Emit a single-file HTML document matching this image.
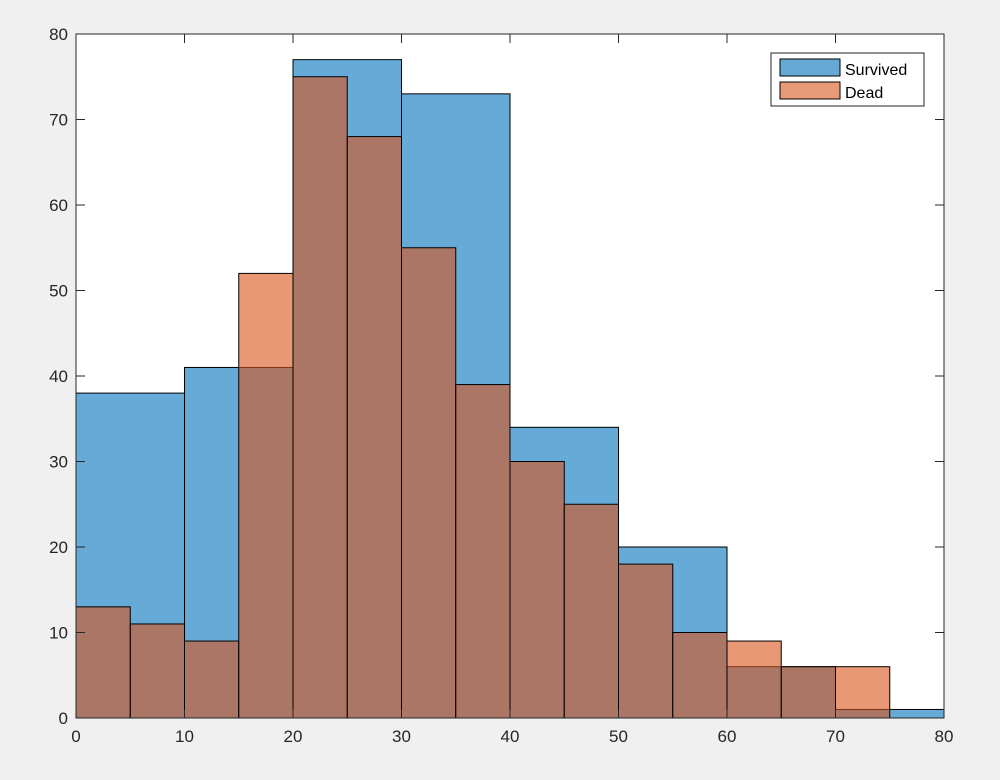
<!DOCTYPE html>
<html><head><meta charset="utf-8"><style>
body{margin:0;background:#f0f0f0;}
svg{display:block;font-family:"Liberation Sans",Arial,sans-serif;}
</style></head><body>
<svg id="chart" width="1000" height="780">
<rect x="76" y="34" width="868" height="684" fill="#fff"/>
<g id="bars"></g>
<g id="axes"></g>
<g>
<rect x="771" y="53" width="153" height="53" fill="#fff" stroke="#262626" stroke-width="1"/>
<rect x="780" y="59" width="60" height="17" fill="#66a9d7" stroke="#000"/>
<text x="845" y="75" font-size="16" fill="#000">Survived</text>
<rect x="780" y="82" width="60" height="17" fill="#e89a78" stroke="#000"/>
<text x="845" y="98" font-size="16" fill="#000">Dead</text>
</g>
</svg>
<script>
const survivedEdges=[0,10,20,30,40,50,60,70,80];
const survivedCounts=[38,41,77,73,34,20,6,1];
const deadEdges=[0,5,10,15,20,25,30,35,40,45,50,55,60,65,70,75,80];
const deadCounts=[13,11,9,52,75,68,55,39,30,25,18,10,9,6,6,0];
const xTicks=[0,10,20,30,40,50,60,70,80];
const yTicks=[0,10,20,30,40,50,60,70,80];
const X0=76,X1=944,Y0=718,Y1=34;
const xs=v=>X0+(v-0)/80*(X1-X0);
const ys=v=>Y0-(v-0)/80*(Y0-Y1);
const NS='http://www.w3.org/2000/svg';
const bars=document.getElementById('bars');
function drawSeries(edges,counts,color,name){
 counts.forEach((c,i)=>{
  if(c<=0)return;
  const r=document.createElementNS(NS,'rect');
  r.setAttribute('x',xs(edges[i]));r.setAttribute('y',ys(c));
  r.setAttribute('width',xs(edges[i+1])-xs(edges[i]));r.setAttribute('height',ys(0)-ys(c));
  r.setAttribute('fill',color);r.setAttribute('fill-opacity','0.6');
  r.setAttribute('stroke','#000');r.setAttribute('stroke-width','1');
  
  
  bars.appendChild(r);
 });
}
drawSeries(survivedEdges,survivedCounts,'#0072BD','survived');
drawSeries(deadEdges,deadCounts,'#D95319','dead');
const ax=document.getElementById('axes');
const frame=document.createElementNS(NS,'rect');
frame.setAttribute('x',X0);frame.setAttribute('y',Y1);frame.setAttribute('width',X1-X0);frame.setAttribute('height',Y0-Y1);
frame.setAttribute('fill','none');frame.setAttribute('stroke','#262626');


ax.appendChild(frame);
function line(x1,y1,x2,y2){const l=document.createElementNS(NS,'line');l.setAttribute('x1',x1);l.setAttribute('y1',y1);l.setAttribute('x2',x2);l.setAttribute('y2',y2);l.setAttribute('stroke','#262626');ax.appendChild(l);return l;}
xTicks.forEach(t=>{
 const x=xs(t);line(x,Y0,x,Y0-9);line(x,Y1,x,Y1+9);
 const tx=document.createElementNS(NS,'text');
 tx.setAttribute('x',x);tx.setAttribute('y',Y0+24);tx.setAttribute('text-anchor','middle');tx.setAttribute('font-size','17');tx.setAttribute('fill','#262626');
 tx.textContent=t;
 
 
 ax.appendChild(tx);
});
yTicks.forEach(t=>{
 const y=ys(t);line(X0,y,X0+9,y);line(X1,y,X1-9,y);
 const tx=document.createElementNS(NS,'text');
 tx.setAttribute('x',X0-8);tx.setAttribute('y',y+6);tx.setAttribute('text-anchor','end');tx.setAttribute('font-size','17');tx.setAttribute('fill','#262626');
 tx.textContent=t;
 
 
 ax.appendChild(tx);
});
</script>
</body></html>
